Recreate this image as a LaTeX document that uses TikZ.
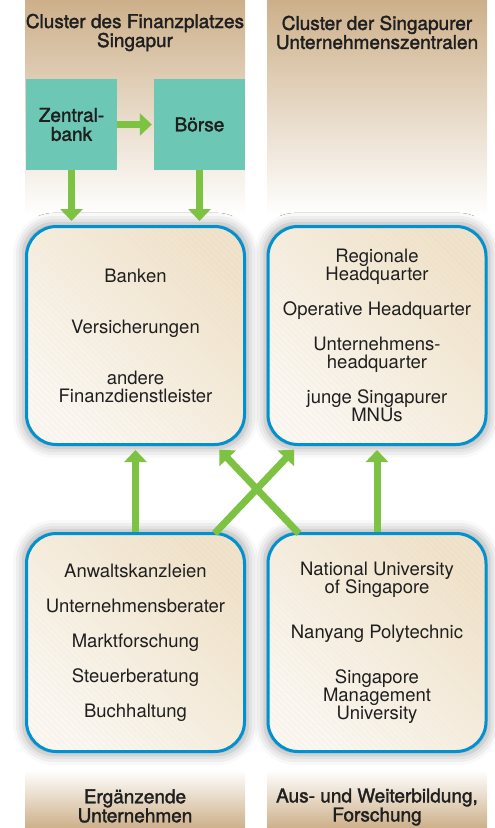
\documentclass[tikz,border=0pt]{standalone}
\usepackage{fontspec}
\setmainfont{TeX Gyre Heros}
\newfontfamily\headfont{TeX Gyre Heros}[FakeBold=1.8]
\usepackage{tikz}
\usetikzlibrary{positioning}
\usetikzlibrary{arrows.meta}
\usetikzlibrary{calc}
\usetikzlibrary{shadows.blur}
\usetikzlibrary{patterns.meta}

\definecolor{headtan}{RGB}{205,176,138}
\definecolor{bankteal}{RGB}{108,199,180}
\definecolor{arrowgreen}{RGB}{125,194,66}
\definecolor{frameblue}{RGB}{0,146,208}
\definecolor{boxdark}{RGB}{240,225,198}
\definecolor{boxlight}{RGB}{251,247,240}

\tikzset{
  headfill/.style={top color=headtan, bottom color=white},
  footfill/.style={top color=white, bottom color=headtan},
  headtext/.style={font=\headfont\fontsize{19}{19}\selectfont, align=center, text=black!88},
  tealbox/.style={headtext, fill=bankteal, minimum width=91pt, minimum height=91pt, inner sep=0pt},
  clusterbox/.style={line width=3pt, rounded corners=30pt,
    minimum width=218pt, minimum height=218pt, inner sep=0pt,
    top color=boxdark, bottom color=boxlight, shading angle=-45,
    blur shadow={shadow xshift=0pt, shadow yshift=0pt, shadow blur radius=10pt,
      shadow scale=1.03, shadow opacity=35},
    postaction={pattern={Lines[angle=-45,distance=4pt,line width=0.4pt]}, pattern color=black!8},
    postaction={draw=frameblue, line width=3pt},
    font=\fontsize{18.5}{18}\selectfont, align=center, text=black!88},
  garrow/.style={arrowgreen, line width=7pt, -{Triangle[width=22pt,length=12pt]}},
}

\begin{document}
\begin{tikzpicture}[x=1pt, y=-1pt]

\useasboundingbox (0,0) rectangle (495,828);

\shade[headfill] (25,0) rectangle (245,215);
\shade[headfill] (267,0) rectangle (487,215);
\shade[footfill] (25,770) rectangle (245,828);
\shade[footfill] (267,770) rectangle (487,828);

\node[headtext] (finhead) at (135,32.5) {Cluster des Finanzplatzes\\Singapur};
\node[headtext] (hqhead) at (377,32.5) {Cluster der Singapurer\\Unternehmenszentralen};
\node[headtext] (erghead) at (135,806) {Ergänzende\\Unternehmen};
\node[headtext] (bildhead) at (377,807) {Aus- und Weiterbildung,\\Forschung};

\node[tealbox] (zb) at (71.5,124.5) {Zentral-\\bank};
\node[tealbox] (boerse) at (199.5,124.5) {Börse};

\node[clusterbox] (finanz) at (135.5,335.5)
  {Banken\\[33pt]Versicherungen\\[33pt]andere\\Finanzdienstleister};
\node[clusterbox] (hq) at (377,335.5)
  {Regionale\\Headquarter\\[17pt]Operative Headquarter\\[17pt]Unternehmens-\\headquarter\\[17pt]junge Singapurer\\MNUs};
\node[clusterbox] (erg) at (135.5,642.5)
  {Anwaltskanzleien\\[17pt]Unternehmensberater\\[17pt]Marktforschung\\[17pt]Steuerberatung\\[17pt]Buchhaltung};
\node[clusterbox] (bildung) at (377,642.5)
  {National University\\of Singapore\\[27pt]Nanyang Polytechnic\\[27pt]Singapore\\Management\\University};

\draw[garrow, shorten >=2pt] (zb.east) -- (boerse.west);
\draw[garrow, shorten >=4pt] (zb.south) -- (zb.south |- finanz.north);
\draw[garrow, shorten >=4pt] (boerse.south) -- (boerse.south |- finanz.north);

\draw[garrow, shorten >=4pt] (erg.north) -- (finanz.south);
\draw[garrow, shorten >=4pt] (bildung.north) -- (hq.south);
\draw[garrow, shorten <=-2pt, shorten >=5pt] ([xshift=-30pt]erg.north east) -- ([xshift=31pt]hq.south west);
\draw[garrow, shorten <=-2pt, shorten >=5pt] ([xshift=31pt]bildung.north west) -- ([xshift=-30pt]finanz.south east);

\end{tikzpicture}
\end{document}
